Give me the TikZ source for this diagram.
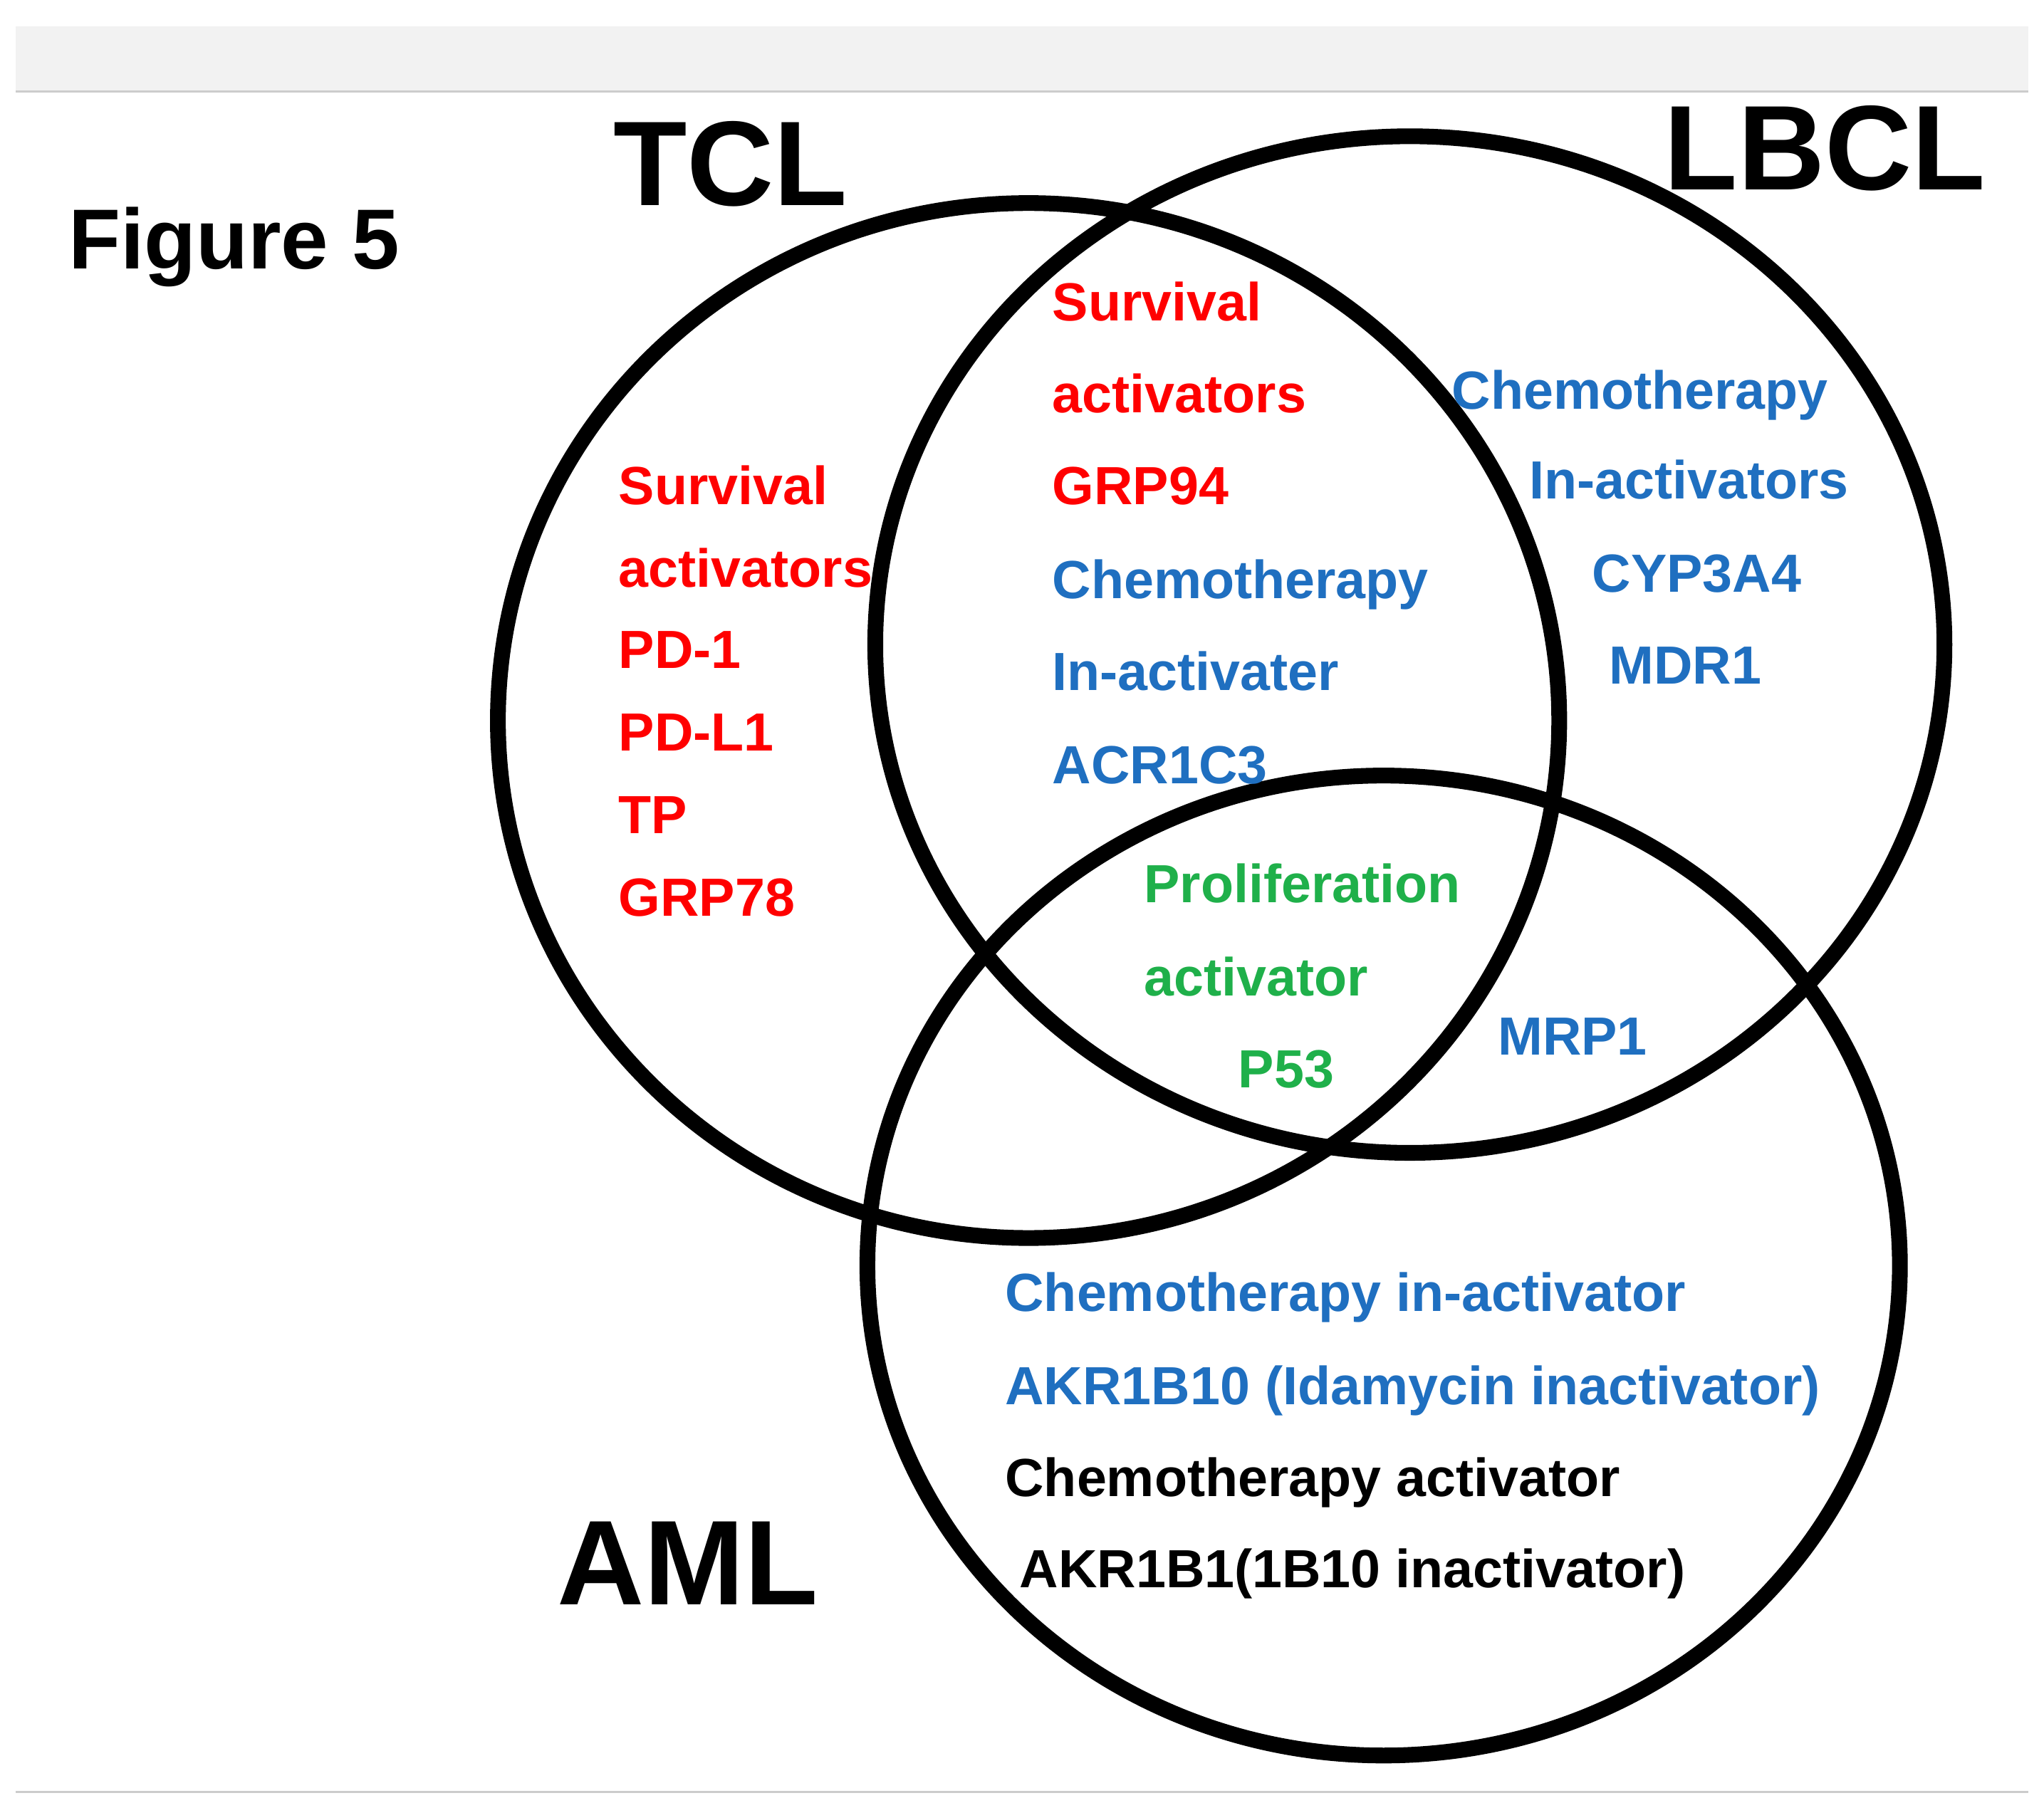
\documentclass[tikz,border=0pt]{standalone}
\usepackage{fontspec}
\setmainfont{Liberation Sans}
\definecolor{rd}{HTML}{FF0000}
\definecolor{bl}{HTML}{1F6FC0}
\definecolor{gn}{HTML}{1FB04A}
\begin{document}
\begin{tikzpicture}[x=1pt,y=-1pt,
  t/.style={anchor=base west,inner sep=0pt,font=\fontsize{41}{48}\selectfont\bfseries},
  big/.style={anchor=base west,inner sep=0pt,font=\fontsize{92}{100}\selectfont\bfseries},
  ring/.style={line width=12pt,draw=black}]
\useasboundingbox[fill=white] (0,0) rectangle (1560,1376);
\fill[black!5] (12,20) rectangle (1548,70);
\draw[black!20,line width=1.5pt] (12,70) -- (1548,70);
\draw[black!20,line width=1.5pt] (12,1368) -- (1548,1368);
\draw[ring] (785,550) ellipse [x radius=405, y radius=395];
\draw[ring] (1076,492) ellipse [x radius=408, y radius=388];
\draw[ring] (1056,966) ellipse [x radius=394, y radius=374];
\node[anchor=base west,inner sep=0pt,font=\fontsize{65}{70}\selectfont\bfseries] (fig) at (52,205) {Figure 5};
\node[big] (tcl) at (468,157) {TCL};
\node[big] (lbcl) at (1270,145) {LBCL};
\node[big] (aml) at (425,1225) {AML};
\node[t,rd] (a1) at (472,385) {Survival};
\node[t,rd] (a2) at (472,448) {activators};
\node[t,rd] (a3) at (472,510) {PD-1};
\node[t,rd] (a4) at (472,573) {PD-L1};
\node[t,rd] (a5) at (472,636) {TP};
\node[t,rd] (a6) at (472,699) {GRP78};
\node[t,rd] (b1) at (803,245) {Survival};
\node[t,rd] (b2) at (803,315) {activators};
\node[t,rd] (b3) at (803,385) {GRP94};
\node[t,bl] (b4) at (803,457) {Chemotherapy};
\node[t,bl] (b5) at (803,527) {In-activater};
\node[t,bl] (b6) at (803,598) {ACR1C3};
\node[t,bl] (c1) at (1108,312) {Chemotherapy};
\node[t,bl] (c2) at (1167,381) {In-activators};
\node[t,bl] (c3) at (1215,452) {CYP3A4};
\node[t,bl] (c4) at (1228,522) {MDR1};
\node[t,gn] (g1) at (873,689) {Proliferation};
\node[t,gn] (g2) at (873,760) {activator};
\node[t,gn] (g3) at (945,830) {P53};
\node[t,bl] (m1) at (1143,805) {MRP1};
\node[t,bl] (d1) at (767,1001) {Chemotherapy in-activator};
\node[t,bl] (d2) at (767,1072) {AKR1B10 (Idamycin inactivator)};
\node[t,black] (d3) at (767,1142) {Chemotherapy activator};
\node[t,black] (d4) at (778,1212) {AKR1B1(1B10 inactivator)};
\end{tikzpicture}
\end{document}
